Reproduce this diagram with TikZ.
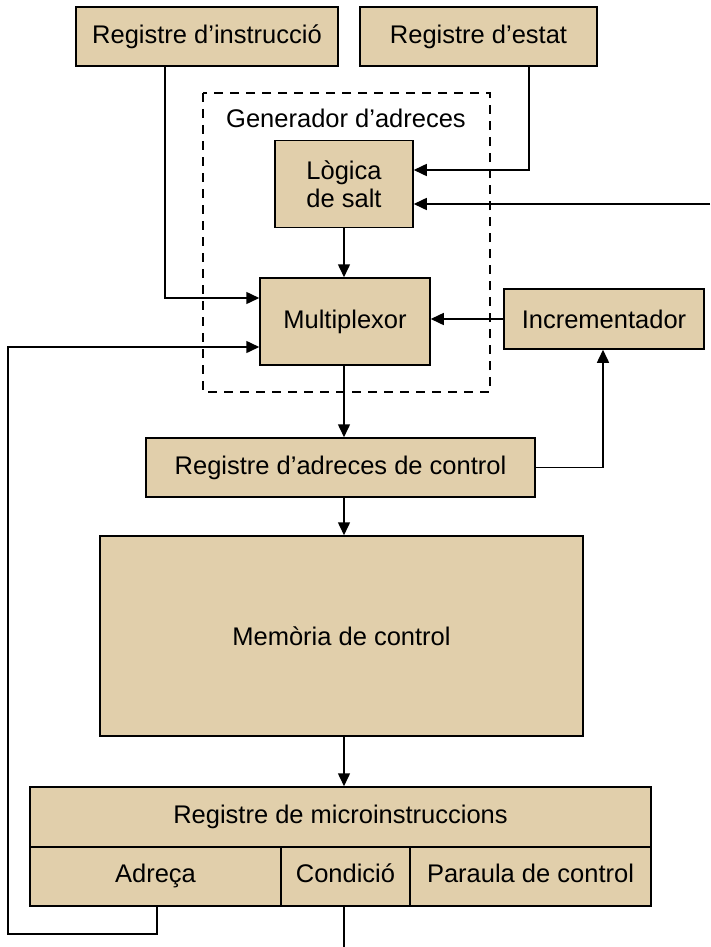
\documentclass[tikz,border=0pt]{standalone}
\usepackage{fontspec}
\setmainfont{Liberation Sans}
\usetikzlibrary{arrows.meta}

\definecolor{boxtan}{RGB}{225,207,171}

\tikzset{
  block/.style={draw=black, fill=boxtan, line width=1.5pt, inner sep=0pt,
    align=center, font=\fontsize{25.5}{28}\selectfont},
  cell/.style={block, minimum height=59, text height=18pt, text depth=5.5pt},
  link/.style={line width=1.5pt, -{Triangle[length=13pt,width=12pt]}},
  wire/.style={line width=1.5pt},
}

\begin{document}
\begin{tikzpicture}[x=1pt, y=-1pt]
        \useasboundingbox (0,0) rectangle (710,947);

        % generador d'adreces
        \draw[line width=1.5pt, dash pattern=on 9pt off 7pt] (203,93) rectangle (490,392);
        \node[font=\fontsize{25.5}{28}\selectfont] (gen) at (346,118) {Generador d’adreces};

        \node[block, minimum width=262, minimum height=59] (instr) at (207,36.5) {Registre d’instrucció};
        \node[block, minimum width=237, minimum height=59] (estat) at (478.5,36.5) {Registre d’estat};
        \node[block, minimum width=138, minimum height=87] (logica) at (344,184) {Lògica\\de salt};
        \node[block, minimum width=170, minimum height=87] (mux) at (345,321.5) {Multiplexor};
        \node[block, minimum width=200, minimum height=60] (incr) at (604,319) {Incrementador};
        \node[block, minimum width=389, minimum height=59] (rac) at (340.5,467.5) {Registre d’adreces de control};
        \node[block, minimum width=483, minimum height=200] (mem) at (341.5,636) {Memòria de control};
        \node[block, minimum width=621, minimum height=60] (micro) at (340.5,817) {Registre de microinstruccions};
        \node[cell, minimum width=251] (adreca) at (155.5,876.5) {Adreça};
        \node[cell, minimum width=129] (cond) at (345.5,876.5) {Condició};
        \node[cell, minimum width=241] (paraula) at (530.5,876.5) {Paraula de control};

        \coordinate (extin) at (710,204);
        \coordinate (condout) at (344,947);

        \draw[link] (instr.south -| 165,0) |- (mux.west |- 0,298);
        \draw[link] (estat.south -| 529,0) |- (logica.east |- 0,170);
        \draw[link] (extin) -- (logica.east |- extin);
        \draw[link] (logica.south) -- (mux.north -| logica.south);
        \draw[link] (incr.west) -- (mux.east |- incr.west);
        \draw[link] (mux.south -| 344,0) -- (rac.north -| 344,0);
        \draw[link] (rac.east) -| (incr.south -| 603,0);
        \draw[link] (rac.south -| 344,0) -- (mem.north -| 344,0);
        \draw[link] (mem.south -| 344,0) -- (micro.north -| 344,0);
        \draw[link] (adreca.south -| 157,0) |- (8,934) |- (mux.west |- 0,347);
        \draw[wire] (cond.south -| condout) -- (condout);
\end{tikzpicture}
\end{document}
